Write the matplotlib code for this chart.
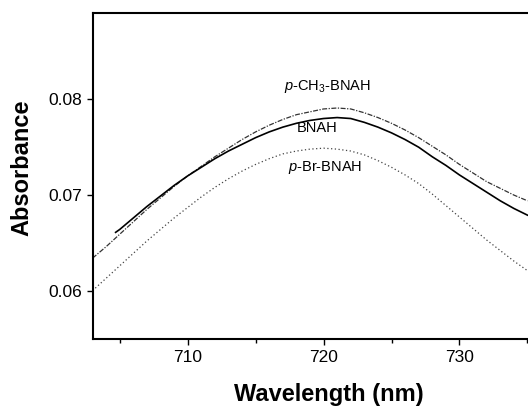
import matplotlib
matplotlib.use("Agg")
import matplotlib.pyplot as plt
from matplotlib.ticker import MultipleLocator

plt.rcParams['font.family'] = ['Liberation Sans', 'DejaVu Sans']
plt.rcParams['mathtext.fontset'] = 'custom'
plt.rcParams['mathtext.rm'] = 'Liberation Sans'
plt.rcParams['mathtext.it'] = 'Liberation Sans:italic'

# wavelength (nm)
wl = [703, 704, 705, 706, 707, 708, 709, 710, 711, 712, 713, 714, 715, 716, 717, 718,
      719, 720, 721, 722, 723, 724, 725, 726, 727, 728, 729, 730, 731, 732, 733, 734, 735]

wl_bnah = [704.7] + wl[2:]
bnah = [0.0661, 0.0664, 0.0676, 0.0688, 0.0699, 0.0710, 0.0720, 0.0729, 0.0738, 0.0746,
        0.0753, 0.0760, 0.0766, 0.0771, 0.0775, 0.0778, 0.0780, 0.0781, 0.0780, 0.0776,
        0.0771, 0.0765, 0.0758, 0.0750, 0.0740, 0.0731, 0.0721, 0.0712, 0.0703, 0.0694,
        0.0686, 0.0679]

ch3 = [0.0634, 0.0646, 0.0659, 0.0672, 0.0685, 0.0697, 0.0709, 0.0720, 0.0730, 0.0740,
       0.0749, 0.0758, 0.0766, 0.0773, 0.0779, 0.0784, 0.0787, 0.0790, 0.0791, 0.0790,
       0.0786, 0.0781, 0.0775, 0.0768, 0.0760, 0.0751, 0.0742, 0.0732, 0.0723, 0.0714,
       0.0707, 0.0700, 0.0694]

br = [0.0600, 0.0613, 0.0626, 0.0639, 0.0652, 0.0664, 0.0676, 0.0687, 0.0698, 0.0708,
      0.0717, 0.0725, 0.0732, 0.0738, 0.0743, 0.0746, 0.0748, 0.0749, 0.0748, 0.0746,
      0.0742, 0.0736, 0.0729, 0.0721, 0.0712, 0.0701, 0.0689, 0.0677, 0.0665, 0.0653,
      0.0642, 0.0631, 0.0621]

labels = ["$\\it{p}$-CH$_3$-BNAH", "BNAH", "$\\it{p}$-Br-BNAH"]
label_pos = [(720.3, 0.0813), (719.5, 0.0770), (720.1, 0.0729)]

fig = plt.figure(figsize=(5.28, 4.08), dpi=100)
# axes run past the right edge, the original figure is cropped there
ax = fig.add_axes([0.1752, 0.1691, 0.8958, 0.7983])

ax.plot(wl, ch3, color="#333333", lw=0.9, linestyle=(0, (4, 1.2, 1, 1.2)))
ax.plot(wl_bnah, bnah, color="black", lw=1.2)
ax.plot(wl, br, color="#444444", lw=0.9, linestyle=(0, (1, 2)))

for txt, (x, y) in zip(labels, label_pos):
    ax.text(x, y, txt, ha="center", va="center", fontsize=10.5)

ax.set_xlim(703.0, 737.8)
ax.set_ylim(0.05495, 0.0890)
ax.xaxis.set_major_locator(MultipleLocator(10))
ax.xaxis.set_minor_locator(MultipleLocator(5))
ax.set_yticks([0.06, 0.07, 0.08])
ax.set_yticklabels(["0.06", "0.07", "0.08"])
ax.set_xticks([710, 720, 730])

ax.tick_params(which="major", direction="out", length=4.3, width=1.0, labelsize=12.5, pad=3.6)
ax.tick_params(axis="y", pad=2.9)
ax.tick_params(which="minor", direction="out", length=3, width=1.0)
for s in ax.spines.values():
    s.set_linewidth(1.5)

ax.set_xlabel("Wavelength (nm)", fontsize=17, fontweight="bold")
ax.set_ylabel("Absorbance", fontsize=17, fontweight="bold")
ax.xaxis.set_label_coords(0.5, -0.135)
ax.yaxis.set_label_coords(-0.126, 0.525)

fig.savefig("out.png", dpi=100)
